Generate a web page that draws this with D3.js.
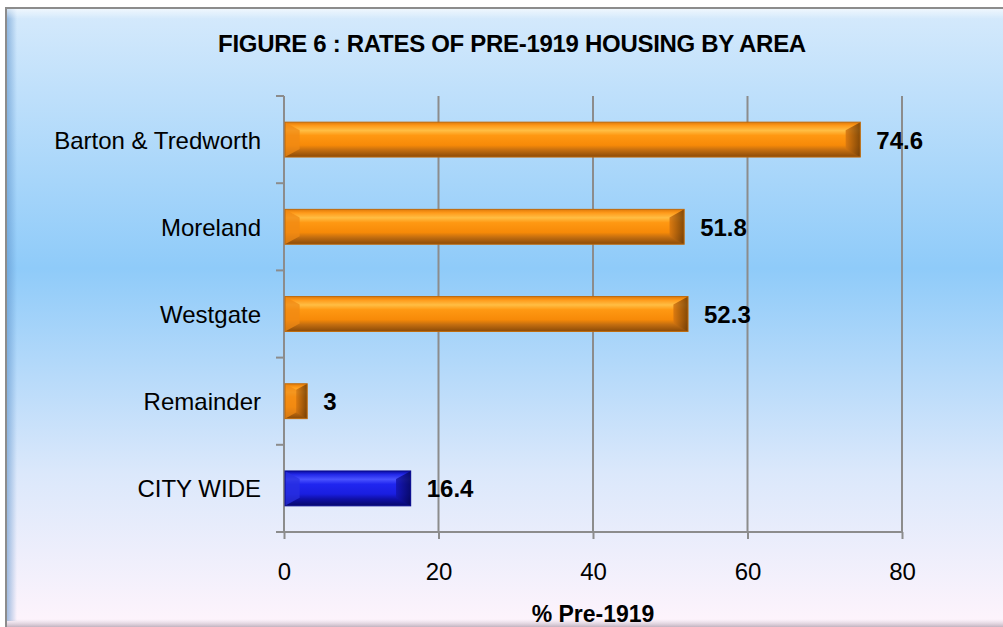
<!DOCTYPE html>
<html>
<head>
<meta charset="utf-8">
<script src="https://cdn.jsdelivr.net/npm/d3@7"></script>
<style>
  body { margin: 0; background: #ffffff; }
  svg { display: block; font-family: "Liberation Sans", Arial, sans-serif; }
</style>
</head>
<body>
<div id="chart"></div>
<script>
var areas = ["Barton & Tredworth", "Moreland", "Westgate", "Remainder", "CITY WIDE"];
var rates = [74.6, 51.8, 52.3, 3, 16.4];
var xTicks = [0, 20, 40, 60, 80];

var svgWidth = 1003;
var svgHeight = 627;
var margin = {top: 96, right: 101, bottom: 95, left: 284};
var width = svgWidth - margin.left - margin.right;
var height = svgHeight - margin.top - margin.bottom;

var data = areas.map(function(a, i) { return {area: a, rate: rates[i], city: a == "CITY WIDE"}; });

var svg = d3.select("#chart").append("svg")
  .attr("width", svgWidth)
  .attr("height", svgHeight);

var defs = svg.append("defs");

// background gradient
var bg = defs.append("linearGradient").attr("id", "bg").attr("x1", 0).attr("y1", 0).attr("x2", 0).attr("y2", 1);
bg.append("stop").attr("offset", "0%").attr("stop-color", "#d6eafc");
bg.append("stop").attr("offset", "42%").attr("stop-color", "#8fcbf9");
bg.append("stop").attr("offset", "75%").attr("stop-color", "#dbe8fb");
bg.append("stop").attr("offset", "100%").attr("stop-color", "#fff4fc");

var leftShade = defs.append("linearGradient").attr("id", "leftShade");
leftShade.append("stop").attr("offset", "0%").attr("stop-color", "#5a8fc8").attr("stop-opacity", 0.55);
leftShade.append("stop").attr("offset", "100%").attr("stop-color", "#5a8fc8").attr("stop-opacity", 0);

var topShine = defs.append("linearGradient").attr("id", "topShine").attr("x1", 0).attr("y1", 0).attr("x2", 0).attr("y2", 1);
topShine.append("stop").attr("offset", "0%").attr("stop-color", "#ffffff").attr("stop-opacity", 0.6);
topShine.append("stop").attr("offset", "100%").attr("stop-color", "#ffffff").attr("stop-opacity", 0);

var bottomShade = defs.append("linearGradient").attr("id", "bottomShade").attr("x1", 0).attr("y1", 0).attr("x2", 0).attr("y2", 1);
bottomShade.append("stop").attr("offset", "0%").attr("stop-color", "#c8b8c8").attr("stop-opacity", 0);
bottomShade.append("stop").attr("offset", "100%").attr("stop-color", "#9a8898").attr("stop-opacity", 0.6);

function barGradient(id, stops) {
  var g = defs.append("linearGradient").attr("id", id).attr("x1", 0).attr("y1", 0).attr("x2", 0).attr("y2", 1);
  stops.forEach(function(s) {
    g.append("stop").attr("offset", s[0]).attr("stop-color", s[1]);
  });
}
barGradient("orange", [["0%", "#e07a0a"], ["10%", "#ff9a1a"], ["24%", "#ffbe44"], ["38%", "#ff9812"], ["66%", "#f78a08"], ["80%", "#c46e10"], ["100%", "#8a4a08"]]);
barGradient("blue", [["0%", "#0a0ca0"], ["10%", "#2228e8"], ["24%", "#4a52ff"], ["38%", "#2026f0"], ["66%", "#1a1ee0"], ["80%", "#1010a8"], ["100%", "#06086a"]]);

function endGradient(id, inner, outer) {
  var g = defs.append("linearGradient").attr("id", id).attr("x1", 0).attr("y1", 0).attr("x2", 1).attr("y2", 0);
  g.append("stop").attr("offset", "0%").attr("stop-color", inner);
  g.append("stop").attr("offset", "100%").attr("stop-color", outer);
}
endGradient("orangeEnd", "#d67610", "#6e3c06");
endGradient("blueEnd", "#1414b0", "#05065a");

// frame
svg.append("rect").attr("x", 6).attr("y", 8).attr("width", svgWidth).attr("height", 620)
  .attr("fill", "url(#bg)").attr("stroke", "#8c8c8c").attr("stroke-width", 2);
svg.append("rect").attr("x", 7).attr("y", 9).attr("width", 10).attr("height", 612).attr("fill", "url(#leftShade)");
svg.append("rect").attr("x", 7).attr("y", 9).attr("width", svgWidth).attr("height", 10).attr("fill", "url(#topShine)");
svg.append("rect").attr("x", 7).attr("y", 619).attr("width", svgWidth).attr("height", 8).attr("fill", "url(#bottomShade)");

var chartGroup = svg.append("g")
  .attr("transform", `translate(${margin.left}, ${margin.top})`);

var xScale = d3.scaleLinear().domain([0, 80]).range([0, width]);
var yScale = d3.scaleBand().domain(areas).range([0, height]).paddingInner(0.6).paddingOuter(0.3);

// gridlines
chartGroup.selectAll(".grid")
  .data(xTicks)
  .enter()
  .append("line")
  .attr("x1", d => xScale(d))
  .attr("x2", d => xScale(d))
  .attr("y1", 0)
  .attr("y2", height)
  .attr("stroke", "#8c8c8c")
  .attr("stroke-width", 2);

// y axis ticks (category boundaries)
var step = yScale.step();
var bounds = d3.range(areas.length + 1).map(i => yScale(areas[0]) - yScale.paddingOuter() * step + i * step);
chartGroup.selectAll(".ytick")
  .data(bounds)
  .enter()
  .append("line")
  .attr("x1", -8).attr("x2", 0)
  .attr("y1", d => d).attr("y2", d => d)
  .attr("stroke", "#8c8c8c").attr("stroke-width", 2);

// bottom axis
var bottomAxis = d3.axisBottom(xScale).tickValues(xTicks).tickSize(7).tickPadding(24).tickFormat(d3.format("d"));
var xAxis = chartGroup.append("g")
  .attr("transform", `translate(0, ${height})`)
  .call(bottomAxis);
xAxis.select(".domain").remove();
xAxis.selectAll("line").attr("stroke", "#8c8c8c").attr("stroke-width", 2);
xAxis.selectAll("text").attr("font-size", 24).attr("fill", "#000").attr("font-family", "Liberation Sans, Arial, sans-serif");
chartGroup.append("line")
  .attr("x1", -8).attr("x2", width)
  .attr("y1", height).attr("y2", height)
  .attr("stroke", "#8c8c8c").attr("stroke-width", 2);

// bars
var bh = yScale.bandwidth();
var bars = chartGroup.selectAll(".bar")
  .data(data)
  .enter()
  .append("g")
  .attr("transform", d => `translate(0, ${yScale(d.area)})`);

bars.append("rect")
  .attr("x", 1)
  .attr("y", 0)
  .attr("width", d => xScale(d.rate) - 1)
  .attr("height", bh)
  .attr("fill", d => d.city ? "url(#blue)" : "url(#orange)");

// bevel at ends
var bev = function(d) { return Math.min(bh * 0.42, (xScale(d.rate) - 1) / 2); };
bars.append("path")
  .attr("d", function(d) {
    var x1 = xScale(d.rate), b = bev(d);
    return `M${x1},0 L${x1},${bh} L${x1 - b},${bh - b * 0.55} L${x1 - b},${b * 0.55} Z`;
  })
  .attr("fill", d => d.city ? "url(#blueEnd)" : "url(#orangeEnd)")
  .attr("opacity", 0.85);
bars.append("path")
  .attr("d", function(d) {
    var b = bev(d);
    return `M1,0 L1,${bh} L${1 + b},${bh - b * 0.55} L${1 + b},${b * 0.55} Z`;
  })
  .attr("fill", d => d.city ? "#2a30e0" : "#f08a14")
  .attr("opacity", 0.75);
bars.append("rect")
  .attr("x", 1)
  .attr("y", 0)
  .attr("width", d => xScale(d.rate) - 1)
  .attr("height", bh)
  .attr("fill", "none")
  .attr("stroke", d => d.city ? "#0a0c90" : "#c06a0a")
  .attr("stroke-width", 1);

// value labels
chartGroup.selectAll(".val")
  .data(data)
  .enter()
  .append("text")
  .attr("x", d => xScale(d.rate) + 16)
  .attr("y", d => yScale(d.area) + bh / 2 + 9)
  .attr("font-size", 24)
  .attr("font-weight", "bold")
  .text(d => d.rate);

// category labels
chartGroup.selectAll(".cat")
  .data(data)
  .enter()
  .append("text")
  .attr("x", -23)
  .attr("y", d => yScale(d.area) + bh / 2 + 9)
  .attr("text-anchor", "end")
  .attr("font-size", 24)
  .text(d => d.area);

// title
svg.append("text")
  .attr("x", 512)
  .attr("y", 52)
  .attr("text-anchor", "middle")
  .attr("font-size", 24)
  .attr("font-weight", "bold")
  .attr("letter-spacing", -0.3)
  .text("FIGURE 6 : RATES OF PRE-1919 HOUSING BY AREA");

// x axis title
svg.append("text")
  .attr("x", margin.left + width / 2)
  .attr("y", 622)
  .attr("text-anchor", "middle")
  .attr("font-size", 23)
  .attr("font-weight", "bold")
  .text("% Pre-1919");
</script>
</body>
</html>
